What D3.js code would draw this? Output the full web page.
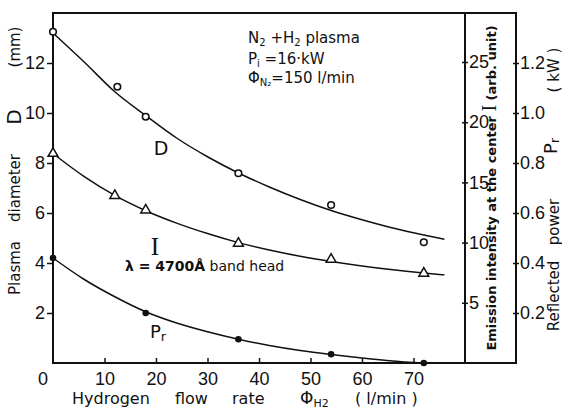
<!DOCTYPE html>
<html lang='en'>
<head>
  <meta charset='UTF-8'>
  <title>Plasma diameter vs hydrogen flow rate</title>
  <script src='https://d3js.org/d3.v7.min.js'></script>
  <style>
    body { margin: 0; background: #fff; }
    svg { display: block; }
    text { fill: #111; }
  </style>
</head>
<body>
<svg width='562' height='410'></svg>
<script>
  const flowD = [0, 12.5, 18, 36, 54, 72]
  const diameter = [13.25, 11.05, 9.85, 7.59, 6.32, 4.83]      // mm
  const flowI = [0, 12, 18, 36, 54, 72]
  const intensity = [17.4, 13.9, 12.7, 9.94, 8.61, 7.45]        // arb. unit
  const flowP = [0, 18, 36, 54, 72]
  const power = [0.42, 0.20, 0.095, 0.035, 0.0]                 // kW

  // the hand drawn fit curves
  const fitFlow = [0, 6, 12, 18, 24, 30, 36, 42, 48, 54, 60, 66, 72, 76]
  const fitD = [13.2, 12.05, 10.85, 9.9, 9.0, 8.25, 7.6, 7.04, 6.54, 6.1, 5.73, 5.4, 5.12, 4.95]
  const fitI = [17.4, 15.5, 13.92, 12.65, 11.62, 10.75, 10.0, 9.38, 8.86, 8.43, 8.06, 7.74, 7.47, 7.32]
  const fitFlowP = [0, 6, 12, 18, 24, 30, 36, 42, 48, 54, 60, 66, 70, 72]
  const fitP = [0.42, 0.335, 0.265, 0.205, 0.16, 0.125, 0.095, 0.07, 0.05, 0.034, 0.02, 0.008, 0.002, 0]

  const xTicks = [10, 20, 30, 40, 50, 60, 70]
  const dTicks = [2, 4, 6, 8, 10, 12]
  const iTicks = [5, 10, 15, 20, 25]
  const pTicks = [0.2, 0.4, 0.6, 0.8, 1.0, 1.2]

  const plotLeft = 53, plotRight = 465, panelRight = 516, plotTop = 13, plotBottom = 363
  const numFont = "'Liberation Sans Narrow', 'Liberation Sans', sans-serif"
  const wordFont = "'DejaVu Sans', sans-serif"

  const svg = d3.select('svg')

  let x = d3.scaleLinear().domain([0, 80]).range([plotLeft, plotRight])
  let yD = d3.scaleLinear().domain([0, 14]).range([plotBottom, plotTop])
  let yI = d3.scaleLinear().domain([0, 29.07]).range([plotBottom, plotTop])
  let yP = d3.scaleLinear().domain([0, 1.4]).range([plotBottom, plotTop])

  // axes
  let xAxis = svg.append('g')
    .attr('transform', `translate(0,${plotBottom})`)
    .call(d3.axisBottom(x).tickValues(xTicks).tickSize(-5).tickPadding(9))
  let leftAxis = svg.append('g')
    .attr('transform', `translate(${plotLeft},0)`)
    .call(d3.axisLeft(yD).tickValues(dTicks).tickSize(6).tickPadding(2))
  let iAxis = svg.append('g')
    .attr('transform', `translate(${plotRight},0)`)
    .call(d3.axisRight(yI).tickValues(iTicks).tickSize(3).tickPadding(1))
  let pAxis = svg.append('g')
    .attr('transform', `translate(${panelRight},0)`)
    .call(d3.axisRight(yP).tickValues(pTicks).tickSize(3).tickPadding(1).tickFormat(d3.format('.1f')))

  ;[xAxis, leftAxis, iAxis, pAxis].forEach(g => {
    g.select('.domain').remove()
    g.selectAll('line').attr('stroke', '#111').attr('stroke-width', 1.5)
    g.selectAll('text').attr('font-family', numFont).attr('font-size', 18).attr('fill', '#111')
  })
  iAxis.selectAll('line').attr('x1', -3)
  pAxis.selectAll('line').attr('x1', -3)

  svg.append('text').attr('x', 43).attr('y', 385)
    .attr('text-anchor', 'middle').attr('font-family', numFont).attr('font-size', 18).text('0')

  // frame
  let frame = svg.append('g').attr('stroke', '#111').attr('stroke-width', 2).attr('fill', 'none')
  frame.append('path').attr('d', `M${plotLeft},${plotTop}H${panelRight}V${plotBottom}H${plotLeft}Z`)
  frame.append('line').attr('x1', plotRight).attr('x2', plotRight).attr('y1', plotTop).attr('y2', plotBottom)

  // fit curves
  let curve = d3.line().curve(d3.curveMonotoneX)
  let curves = svg.append('g').attr('fill', 'none').attr('stroke', '#111').attr('stroke-width', 1.5)
  curves.append('path').attr('d', curve(fitFlow.map((f, i) => [x(f), yD(fitD[i])])))
  curves.append('path').attr('d', curve(fitFlow.map((f, i) => [x(f), yI(fitI[i])])))
  curves.append('path').attr('d', curve(fitFlowP.map((f, i) => [x(f), yP(fitP[i])])))

  // markers
  svg.append('g').selectAll('circle')
    .data(flowD).enter().append('circle')
      .attr('cx', d => x(d)).attr('cy', (d, i) => yD(diameter[i])).attr('r', 3.3)
      .attr('fill', '#fff').attr('stroke', '#111').attr('stroke-width', 1.6)

  let tri = d3.symbol().type(d3.symbolTriangle).size(42)
  svg.append('g').selectAll('path')
    .data(flowI).enter().append('path')
      .attr('d', tri)
      .attr('transform', (d, i) => `translate(${x(d)},${yI(intensity[i])})`)
      .attr('fill', '#fff').attr('stroke', '#111').attr('stroke-width', 1.5)

  svg.append('g').selectAll('circle')
    .data(flowP).enter().append('circle')
      .attr('cx', d => x(d)).attr('cy', (d, i) => yP(power[i])).attr('r', 3.3)
      .attr('fill', '#111')

  // text helpers
  function words(g, px, py, size) {
    return g.append('text').attr('x', px).attr('y', py)
      .attr('font-family', wordFont).attr('font-size', size)
  }
  function vwords(px, py, size) {
    return svg.append('text').attr('transform', `translate(${px},${py}) rotate(-90)`)
      .attr('text-anchor', 'middle').attr('font-family', wordFont).attr('font-size', size)
  }

  // condition box
  let t1 = words(svg, 248, 43, 15)
  t1.append('tspan').text('N')
  t1.append('tspan').attr('font-size', 10).attr('dy', 3).text('2')
  t1.append('tspan').attr('dy', -3).text(' +H')
  t1.append('tspan').attr('font-size', 10).attr('dy', 3).text('2')
  t1.append('tspan').attr('dy', -3).text(' plasma')
  let t2 = words(svg, 248, 64, 15)
  t2.append('tspan').text('P')
  t2.append('tspan').attr('font-size', 10).attr('dy', 3).text('i')
  t2.append('tspan').attr('dy', -3).text(' =16·kW')
  let t3 = words(svg, 248, 83, 15)
  t3.append('tspan').text('Φ')
  t3.append('tspan').attr('font-size', 10).attr('dy', 3).text('N₂')
  t3.append('tspan').attr('dy', -3).text('=150 l/min')

  // curve labels
  words(svg, 161, 155, 19).attr('text-anchor', 'middle').text('D')
  svg.append('text').attr('x', 155).attr('y', 255).attr('text-anchor', 'middle')
    .attr('font-family', "'Liberation Serif', serif").attr('font-size', 25).text('I')
  let lam = words(svg, 125, 271, 14)
  lam.append('tspan').attr('font-weight', 'bold').text('λ = 4700Å')
  lam.append('tspan').attr('font-size', 14).text(' band head')
  let pr = words(svg, 150, 338, 18)
  pr.append('tspan').text('P')
  pr.append('tspan').attr('font-size', 13).attr('dy', 3).text('r')

  // x title
  let xt = words(svg, 72, 404, 16)
  xt.append('tspan').text('Hydrogen')
  xt.append('tspan').attr('x', 175).text('flow')
  xt.append('tspan').attr('x', 232).text('rate')
  xt.append('tspan').attr('x', 300).attr('font-size', 17).text('Φ')
  xt.append('tspan').attr('font-size', 11).attr('dy', 3).text('H2')
  xt.append('tspan').attr('x', 355).attr('dy', -3).text('(  l/min )')

  // left title
  vwords(20, 268, 15).text('Plasma')
  vwords(20, 188, 15).text('diameter')
  vwords(21, 117, 20).text('D')
  vwords(20, 47, 15).text('(mm)')

  // intensity title
  let it = vwords(496, 188, 13).attr('font-weight', 'bold')
  it.append('tspan').text('Emission  intensity  at  the  center  ')
  it.append('tspan').attr('font-family', "'Liberation Serif', serif").attr('font-weight', 'normal')
    .attr('font-size', 20).text('I')
  it.append('tspan').text('  (arb. unit)')

  // power title
  vwords(559, 296, 15).text('Reflected')
  vwords(559, 222, 15).text('power')
  let pt = vwords(557, 146, 18)
  pt.append('tspan').text('P')
  pt.append('tspan').attr('font-size', 12).attr('dy', 2).text('r')
  vwords(559, 70, 15).text('( kW )')
</script>
</body>
</html>
